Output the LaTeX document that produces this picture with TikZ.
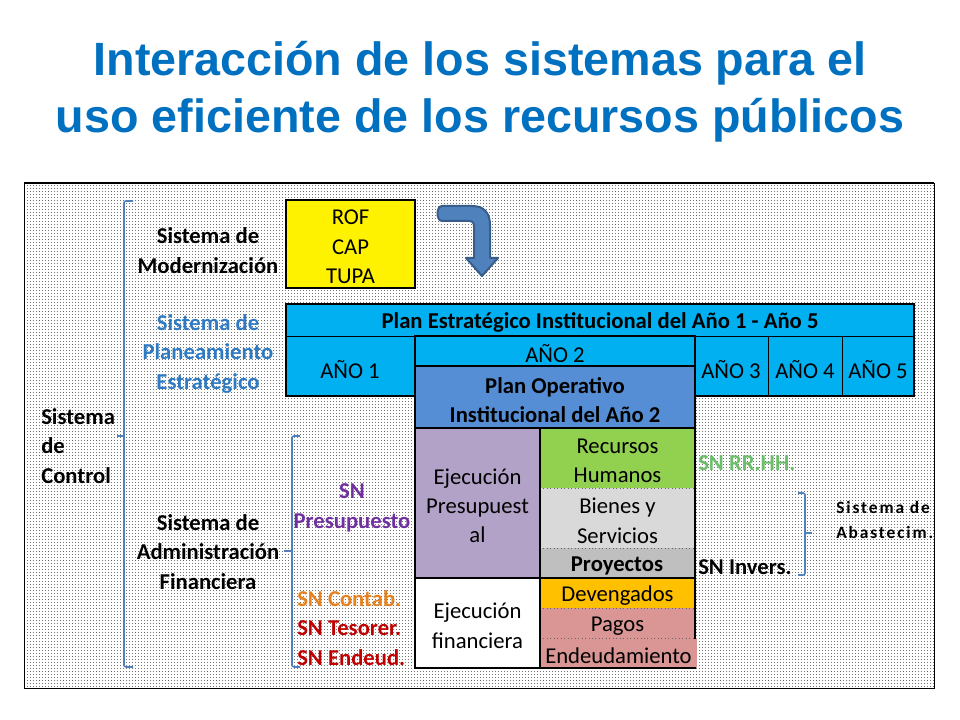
\documentclass[tikz,border=0pt]{standalone}
\usepackage{fontspec}
\setmainfont{Carlito}
\newfontfamily\titlefont{Liberation Sans}
\newfontfamily\abafont{Carlito}[LetterSpace=11]
\usetikzlibrary{patterns}
\pgfdeclarepatternformonly{finedots}{\pgfqpoint{0pt}{0pt}}{\pgfqpoint{2.25pt}{2.25pt}}{\pgfqpoint{2.25pt}{2.25pt}}{\pgfpathrectangle{\pgfqpoint{0pt}{0pt}}{\pgfqpoint{0.75pt}{0.75pt}}\pgfusepath{fill}}
\definecolor{titleblue}{HTML}{0070C0}
\definecolor{cyanbox}{HTML}{00B0F0}
\definecolor{pobox}{HTML}{558ED5}
\definecolor{lavbox}{HTML}{B3A2C7}
\definecolor{greenbox}{HTML}{92D050}
\definecolor{lgraybox}{HTML}{D9D9D9}
\definecolor{graybox}{HTML}{BFBFBF}
\definecolor{orangebox}{HTML}{FFC000}
\definecolor{pinkbox}{HTML}{D99694}
\definecolor{brk}{HTML}{4F81BD}
\definecolor{arrowfill}{HTML}{4F81BD}
\definecolor{arrowline}{HTML}{385D8A}
\definecolor{planblue}{HTML}{2E7BC4}
\definecolor{purp}{HTML}{7030A0}
\definecolor{orng}{HTML}{E8821E}
\definecolor{dred}{HTML}{C00000}
\definecolor{rrgreen}{HTML}{6DBE6A}
\newcommand\cellbox[7]{%
  \fill[#6] (#2,#3) rectangle (#4,#5);
  \node[celltext] (#1) at ({(#2+#4)/2},{(#3+#5)/2}) {#7};}
\begin{document}
\begin{tikzpicture}[x=0.75pt,y=-0.75pt,
  celltext/.style={font=\fontsize{17}{22}\selectfont, align=center, inner sep=0pt, text=black, yshift=-2.2pt},
  cellbold/.style={font=\bfseries\fontsize{17}{22}\selectfont, align=center, inner sep=0pt, yshift=-2.2pt},
  labtext/.style={font=\bfseries\fontsize{17}{22.3}\selectfont, align=center, inner sep=0pt, yshift=-2.2pt},
  thickline/.style={line width=2.2pt, black},
  thinline/.style={line width=0.6pt, black},
  dotline/.style={line width=0.6pt, black!60, dotted},
  bracket/.style={brk, line width=1.2pt, rounded corners=1.5pt}]
\useasboundingbox (0,0) rectangle (960,720);
\fill[white] (0,0) rectangle (960,720);
% title
\node[font=\titlefont\bfseries\fontsize{35}{42.5}\selectfont, text=titleblue, align=center, inner sep=0pt] (title) at (480,92)
  {Interacción de los sistemas para el\\uso eficiente de los recursos públicos};
% background frame
\fill[pattern=finedots, pattern color=black!55] (24,183) rectangle (934,688);
\draw[line width=0.6pt] (24,183) rectangle (934,688);
\draw[line width=2pt] (24,183) -- (934,183);
% brackets
\draw[bracket] (133,201) -- (124,201) -- (124,667) -- (133,667);
\draw[bracket] (124,436) -- (117,436);
\draw[bracket] (300,436) -- (292,436) -- (292,667) -- (300,667);
\draw[bracket] (292,551) -- (284,551);
\draw[bracket] (798,493) -- (805,493) -- (805,575) -- (798,575);
\draw[bracket] (805,533) -- (812,533);
% left labels
\node[labtext] (modern) at (208,248) {Sistema de\\Modernización};
\node[labtext, text=planblue] (plane) at (208,351) {Sistema de\\Planeamiento\\Estratégico};
\node[labtext, align=left, anchor=west] (control) at (41,443) {Sistema\\de\\Control};
\node[labtext] (admfin) at (208,549) {Sistema de\\Administración\\Financiera};
\node[labtext, text=purp] (snpre) at (352,505) {SN\\Presupuesto};
\node[labtext, text=orng, anchor=west] (sncon) at (297,596) {SN Contab.};
\node[labtext, text=dred, anchor=west] (sntes) at (297,625) {SN Tesorer.};
\node[labtext, text=dred, anchor=west] (snend) at (297,655) {SN Endeud.};
\node[labtext, text=rrgreen, anchor=west] (snrh) at (698,460) {SN RR.HH.};
\node[labtext, anchor=west] (sninv) at (698,564) {SN Invers.};
\node[font=\abafont\bfseries\fontsize{13}{18.5}\selectfont, align=left, anchor=west, inner sep=0pt, yshift=-1.5pt] (abas) at (836,518) {Sistema de\\Abastecim.};
% yellow box
\cellbox{rof}{286}{200}{415}{288}{yellow}{ROF\\CAP\\TUPA}
\draw[thickline] (286,200) rectangle (415,288);
% curved arrow
\filldraw[fill=arrowfill, draw=arrowline, line width=1.5pt, line join=round]
  (442,206) -- (472,206) .. controls (484,206) and (490,213) .. (490,225) -- (490,258) -- (498,258) -- (482,276) -- (466,258) -- (474,258) -- (474,227) .. controls (474,223) and (473,221) .. (469,221) -- (442,221) .. controls (436,221) and (436,206) .. (442,206) -- cycle;
% PEI box
\fill[cyanbox] (286,304) rectangle (914,396);
\node[cellbold] (pei) at (600,320) {Plan Estratégico Institucional del Año 1 - Año 5};
\draw[thinline] (286,336) -- (914,336);
\draw[thinline] (768,336) -- (768,396);
\draw[thinline] (842,336) -- (842,396);
\node[celltext] (a1) at (350,367) {AÑO 1};
\node[celltext] (a3) at (731,367) {AÑO 3};
\node[celltext] (a4) at (805,367) {AÑO 4};
\node[celltext] (a5) at (878,367) {AÑO 5};
\draw[thickline] (286,304) rectangle (914,396);
% central column
\cellbox{a2}{415}{336}{695}{366}{cyanbox}{AÑO 2}
\fill[pobox] (415,366) rectangle (695,428);
\node[cellbold] (poi) at (555,397) {Plan Operativo\\Institucional del Año 2};
\cellbox{ep}{415}{428}{540}{578}{lavbox}{Ejecución\\Presupuest\\al}
\cellbox{rh}{540}{428}{695}{488}{greenbox}{Recursos\\Humanos}
\cellbox{bs}{540}{488}{695}{548}{lgraybox}{Bienes y\\Servicios}
\fill[graybox] (540,548) rectangle (695,578);
\node[cellbold] (proy) at (617,563) {Proyectos};
\cellbox{ef}{415}{578}{540}{668}{white}{Ejecución\\financiera}
\cellbox{dev}{540}{578}{695}{608}{orangebox}{Devengados}
\cellbox{pag}{540}{608}{695}{638}{pinkbox}{Pagos}
\cellbox{endeu}{540}{638}{697}{668}{pinkbox}{Endeudamiento}
\draw[dotline] (540,488) -- (695,488);
\draw[dotline] (540,548) -- (695,548);
\draw[dotline] (540,608) -- (695,608);
\draw[dotline] (540,638) -- (695,638);
\draw[thickline] (415,366) -- (695,366);
\draw[thickline] (415,428) -- (695,428);
\draw[thickline] (415,578) -- (695,578);
\draw[thickline] (540,428) -- (540,668);
\draw[thickline, line cap=rect] (695,638) -- (695,336) -- (415,336) -- (415,668) -- (695,668);
\end{tikzpicture}
\end{document}
